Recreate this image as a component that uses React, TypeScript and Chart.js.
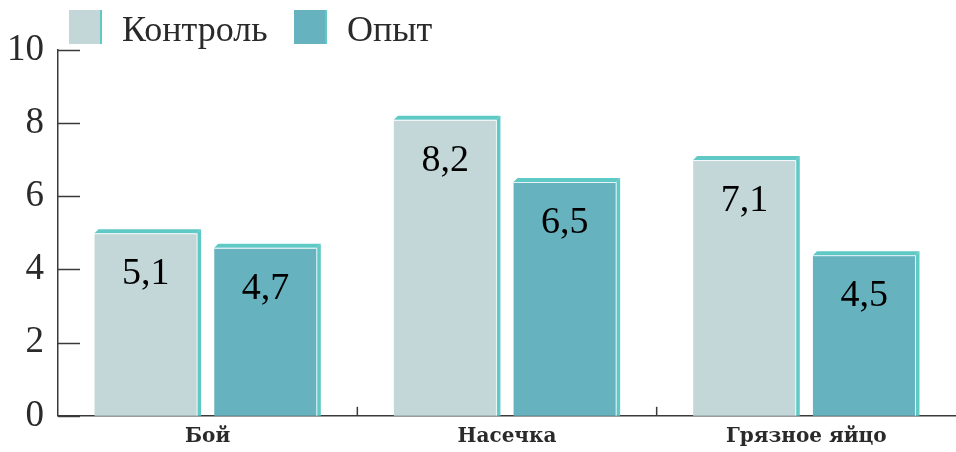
import React, { useEffect, useRef } from "react";
import { Chart, registerables } from "chart.js";

Chart.register(...registerables);

const categories = ["Бой", "Насечка", "Грязное яйцо"];
const seriesNames = ["Контроль", "Опыт"];
const controlValues = [5.1, 8.2, 7.1];
const experimentValues = [4.7, 6.5, 4.5];
const yTicks = [0, 2, 4, 6, 8, 10];

const frontColors = ["#c3d7d9", "#66b2bf"];
const faceColor = "#5fc9c5";
const axisColor = "#3a3a3a";
const SERIF = "'Liberation Serif', serif";
const BOLD_SERIF = "'DejaVu Serif', serif";

const fmt = (v: number) => v.toFixed(1).replace(".", ",");

const barsPlugin = {
  id: "bars3d",
  afterDatasetsDraw(chart: any) {
    const ctx = chart.ctx;
    const d = 4;
    chart.data.datasets.forEach((ds: any, di: number) => {
      const meta = chart.getDatasetMeta(di);
      meta.data.forEach((el: any, i: number) => {
        const { x, y, base, width } = el.getProps(["x", "y", "base", "width"], true);
        const left = x - width / 2;
        const right = x + width / 2;
        const fr = right - d;
        ctx.save();
        ctx.fillStyle = frontColors[di];
        ctx.fillRect(left, y + d, fr - left, base - (y + d));
        ctx.fillStyle = faceColor;
        ctx.beginPath();
        ctx.moveTo(left, y + d);
        ctx.lineTo(fr, y + d);
        ctx.lineTo(right, y);
        ctx.lineTo(left + d, y);
        ctx.closePath();
        ctx.fill();
        ctx.beginPath();
        ctx.moveTo(fr, y + d);
        ctx.lineTo(right, y);
        ctx.lineTo(right, base);
        ctx.lineTo(fr, base);
        ctx.closePath();
        ctx.fill();
        ctx.strokeStyle = "rgba(255,255,255,0.85)";
        ctx.lineWidth = 1;
        ctx.beginPath();
        ctx.moveTo(left, y + d + 0.5);
        ctx.lineTo(fr, y + d + 0.5);
        ctx.lineTo(fr, base);
        ctx.stroke();
        ctx.fillStyle = "#000";
        ctx.font = `38px ${SERIF}`;
        ctx.textAlign = "center";
        ctx.textBaseline = "alphabetic";
        ctx.fillText(fmt(ds.data[i]), (left + fr) / 2, y + d + 51);
        ctx.restore();
      });
    });
  },
  afterDraw(chart: any) {
    const ctx = chart.ctx;
    const xs = chart.scales.x;
    const ys = chart.scales.y;
    const area = chart.chartArea;
    ctx.save();
    ctx.strokeStyle = axisColor;
    ctx.lineWidth = 1.5;
    yTicks.forEach((t) => {
      const py = Math.round(ys.getPixelForValue(t)) + 0.5;
      ctx.beginPath();
      ctx.moveTo(area.left, py);
      ctx.lineTo(area.left + 22, py);
      ctx.stroke();
    });
    for (let i = 0; i < categories.length - 1; i++) {
      const px = (xs.getPixelForValue(i) + xs.getPixelForValue(i + 1)) / 2;
      ctx.beginPath();
      ctx.moveTo(px, area.bottom);
      ctx.lineTo(px, area.bottom - 9);
      ctx.stroke();
    }
    const boxes = [69, 294];
    seriesNames.forEach((name, i) => {
      const bx = boxes[i];
      ctx.fillStyle = frontColors[i];
      ctx.fillRect(bx, 10, 31, 34);
      ctx.fillStyle = faceColor;
      ctx.fillRect(bx + 31, 10, 2, 34);
      ctx.fillStyle = "#2a2a2a";
      ctx.font = `36px ${SERIF}`;
      ctx.textAlign = "left";
      ctx.textBaseline = "alphabetic";
      ctx.fillText(name, bx + 53, 41);
    });
    ctx.restore();
  },
};

export default function App() {
  const ref = useRef<HTMLCanvasElement>(null);
  useEffect(() => {
    document.body.style.margin = "0";
    const chart = new Chart(ref.current!, {
      type: "bar",
      data: {
        labels: categories,
        datasets: [
          { label: seriesNames[0], data: controlValues, backgroundColor: "rgba(0,0,0,0)" },
          { label: seriesNames[1], data: experimentValues, backgroundColor: "rgba(0,0,0,0)" },
        ],
      },
      options: {
        animation: false,
        responsive: false,
        layout: { padding: { top: 50, right: -2, left: 0, bottom: 0 } },
        plugins: { legend: { display: false }, tooltip: { enabled: false } },
        datasets: { bar: { categoryPercentage: 0.8, barPercentage: 0.89 } },
        scales: {
          x: {
            grid: { display: false, drawTicks: false },
            border: { display: true, color: axisColor, width: 1.5 },
            ticks: {
              color: "#2a2a2a",
              padding: 9,
              font: { family: BOLD_SERIF, size: 20, weight: "bold" },
            },
            afterFit: (s: any) => {
              s.height = 35;
            },
          },
          y: {
            min: 0,
            max: 10,
            afterBuildTicks: (s: any) => {
              s.ticks = yTicks.map((v) => ({ value: v }));
            },
            grid: { display: false, drawTicks: false },
            border: { display: true, color: axisColor, width: 1.5 },
            ticks: {
              color: "#2a2a2a",
              padding: 14,
              font: { family: SERIF, size: 37 },
            },
            afterFit: (s: any) => {
              s.width = 58;
            },
          },
        },
      },
      plugins: [barsPlugin],
    } as any);
    return () => chart.destroy();
  }, []);
  return (
    <div style={{ width: 956, height: 452 }}>
      <canvas ref={ref} width={956} height={452} style={{ display: "block" }} />
    </div>
  );
}
